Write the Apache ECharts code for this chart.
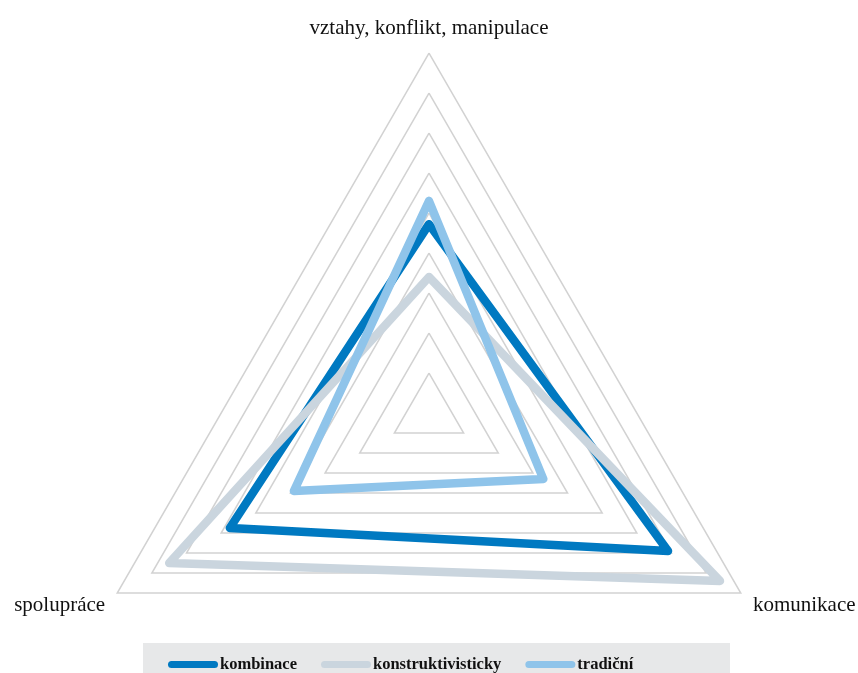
<!DOCTYPE html>
<html>
<head>
<meta charset="utf-8">
<script src="https://cdn.jsdelivr.net/npm/echarts@6/dist/echarts.min.js"></script>
<style>
html,body{margin:0;padding:0;background:#fff;}
#c{width:858px;height:673px;}
</style>
</head>
<body>
<div id="c"></div>
<script>
const indicatorNames = ['vztahy, konflikt, manipulace', 'spolupráce', 'komunikace'];
const seriesNames = ['kombinace', 'konstruktivisticky', 'tradiční'];
const kombinace = [4.72, 5.75, 6.9];
const konstruktivisticky = [3.4, 7.5, 8.4];
const tradicni = [5.3, 3.9, 3.3];
const seriesColors = ['#0079c1', '#cad5de', '#8fc4ea'];
const scaleMax = 9;

const chart = echarts.init(document.getElementById('c'), null, {renderer: 'canvas'});
const values = [kombinace, konstruktivisticky, tradicni];
const font = '"Liberation Serif", "Times New Roman", serif';
chart.setOption({
  animation: false,
  backgroundColor: '#ffffff',
  graphic: [{
    type: 'rect', left: 143, top: 643, z: -10,
    shape: {width: 587, height: 30},
    style: {fill: '#e7e8e9'}
  }],
  legend: {
    left: 163, top: 651,
    itemWidth: 50, itemHeight: 7, itemGap: 24,
    icon: 'path://M3.5,0 L46.5,0 A3.5,3.5 0 0 1 46.5,7 L3.5,7 A3.5,3.5 0 0 1 3.5,0 Z',
    textStyle: {fontFamily: font, fontWeight: 'bold', fontSize: 16.5, color: '#111', padding: [0,0,0,-3]},
    data: seriesNames
  },
  radar: {
    center: [429, 413],
    radius: 360,
    startAngle: 90,
    shape: 'polygon',
    splitNumber: 9,
    indicator: indicatorNames.map(n => ({name: n, max: scaleMax, min: 0})),
    nameGap: 14,
    axisName: {
      color: '#111', fontFamily: font, fontSize: 21,
      formatter: (n) => n === indicatorNames[0] ? '{t|' + n + '}' : '{b|' + n + '}',
      rich: {
        t: {fontFamily: font, fontSize: 21, color: '#111'},
        b: {fontFamily: font, fontSize: 21, color: '#111', padding: [10, 0, 0, 0]}
      }
    },
    axisLine: {show: false},
    axisTick: {show: false},
    axisLabel: {show: false},
    splitArea: {show: false},
    splitLine: {lineStyle: {color: '#d2d2d2', width: 1.5}}
  },
  series: [{
    type: 'radar',
    symbol: 'none',
    data: seriesNames.map((n, i) => ({
      name: n,
      value: values[i],
      lineStyle: {color: seriesColors[i], width: 8.5, join: 'round', cap: 'round'},
      itemStyle: {color: seriesColors[i]}
    }))
  }]
});
</script>
</body>
</html>
